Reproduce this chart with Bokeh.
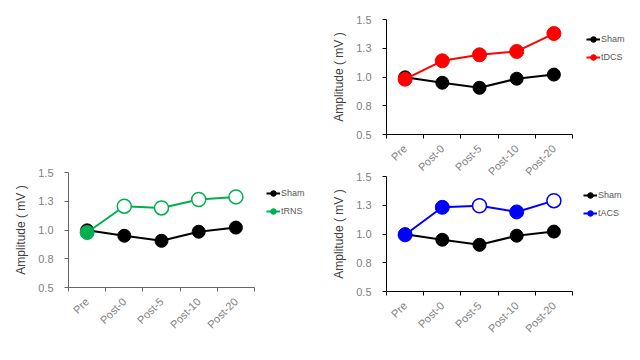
from bokeh.plotting import figure
from bokeh.models import Range1d, FixedTicker, Legend, LegendItem, Spacer
from bokeh.layouts import row, column
from bokeh.embed import file_html
from bokeh.resources import INLINE

categories = ["Pre", "Post-0", "Post-5", "Post-10", "Post-20"]
y_ticks = [0.5, 0.75, 1.0, 1.25, 1.5]
y_tick_labels = ["0.5", "0.8", "1.0", "1.3", "1.5"]

sham = [0.997, 0.950, 0.906, 0.985, 1.021]
tdcs = [0.981, 1.141, 1.193, 1.222, 1.378]
trns = [0.978, 1.207, 1.192, 1.265, 1.288]
tacs = [0.993, 1.232, 1.246, 1.192, 1.290]
# which points are drawn as open (hollow) circles
trns_open = [False, True, True, True, True]
tdcs_open = [False, False, False, False, False]
tacs_open = [False, False, True, False, True]

FONT = "Liberation Sans"
xs = [i + 0.5 for i in range(len(categories))]
PLOT_W, FRAME_H = 186, 115   # width of the axis area, height of the frame


def panel(name, values, is_open, color, axis_color,
          left, frame_w, right, top, bottom, leg_dx, leg_dy):
    n = len(categories)
    p = figure(width=left + frame_w + right, height=top + FRAME_H + bottom,
               output_backend="svg", toolbar_location=None,
               x_range=Range1d(0, n * frame_w / PLOT_W),
               y_range=Range1d(y_ticks[0], y_ticks[-1]),
               min_border_left=left, min_border_right=right,
               min_border_top=top, min_border_bottom=bottom)
    p.background_fill_color = None
    p.border_fill_color = None
    p.outline_line_color = None
    p.grid.visible = False

    # x axis: labels at category centers, tick marks at boundaries
    p.xaxis.bounds = (0, n)
    p.xaxis.ticker = FixedTicker(ticks=xs, minor_ticks=list(range(n + 1)))
    p.xaxis.major_label_overrides = dict(zip(xs, categories))
    p.xaxis.major_tick_out = 0
    p.xaxis.major_tick_in = 0
    p.xaxis.minor_tick_out = 4
    p.xaxis.minor_tick_in = 0
    p.xaxis.minor_tick_line_color = axis_color
    p.xaxis.major_label_orientation = 0.785398
    p.xaxis.major_label_standoff = 8

    p.yaxis.ticker = FixedTicker(ticks=y_ticks)
    p.yaxis.major_label_overrides = dict(zip(y_ticks, y_tick_labels))
    p.yaxis.major_tick_out = 4
    p.yaxis.major_tick_in = 0
    p.yaxis.minor_tick_line_color = None
    p.yaxis.major_label_standoff = 11
    p.yaxis.axis_label = "Amplitude ( mV )"
    p.yaxis.axis_label_standoff = 7
    p.yaxis.axis_label_text_font = FONT
    p.yaxis.axis_label_text_font_size = "12px"
    p.yaxis.axis_label_text_font_style = "normal"
    p.yaxis.axis_label_text_color = "#404040"

    for ax in (p.xaxis, p.yaxis):
        ax.axis_line_color = axis_color
        ax.axis_line_width = 1
        ax.major_tick_line_color = axis_color
        ax.major_label_text_font = FONT
        ax.major_label_text_font_size = "11px"
        ax.major_label_text_color = "#7f7f7f"

    sl = p.line(xs, sham, line_color="black", line_width=2)
    ss = p.scatter(xs, sham, size=13, marker="circle", fill_color="black",
                   line_color="black")

    tl = p.line(xs, values, line_color=color, line_width=2)
    fx = [x for x, o in zip(xs, is_open) if not o]
    fy = [v for v, o in zip(values, is_open) if not o]
    ox = [x for x, o in zip(xs, is_open) if o]
    oy = [v for v, o in zip(values, is_open) if o]
    ts = p.scatter(fx, fy, size=14, marker="circle", fill_color=color,
                   line_color=color)
    if ox:
        p.scatter(ox, oy, size=14, marker="circle", fill_color="white",
                  line_color=color, line_width=1.5)

    legend = Legend(items=[LegendItem(label="Sham", renderers=[sl, ss]),
                           LegendItem(label=name, renderers=[tl, ts])],
                    location=(PLOT_W + leg_dx, leg_dy))
    legend.glyph_width = 14
    legend.glyph_height = 14
    legend.label_height = 14
    legend.label_standoff = 1
    legend.spacing = 4
    legend.padding = 0
    legend.margin = 0
    legend.border_line_color = None
    legend.background_fill_alpha = 0
    legend.label_text_font = FONT
    legend.label_text_font_size = "9px"
    legend.label_text_color = "#595959"
    p.add_layout(legend, "center")
    return p


p_bl = panel("tRNS", trns, trns_open, "#00b050", "#666666",
             68, 252, 4, 12, 60, 12, 69)
p_tr = panel("tDCS", tdcs, tdcs_open, "#ff0000", "black",
             62, 246, 4, 19, 55, 14, 70)
p_br = panel("tACS", tacs, tacs_open, "#0000ff", "black",
             62, 246, 4, 12, 60, 11, 71)
p_br.margin = (4, 0, 0, 0)

top = row(Spacer(width=324, height=189), p_tr)
bottom = row(p_bl, p_br)
bottom.margin = (-29, 0, 0, 0)
layout = column(top, bottom)

open("out.html", "w").write(file_html(layout, INLINE))
